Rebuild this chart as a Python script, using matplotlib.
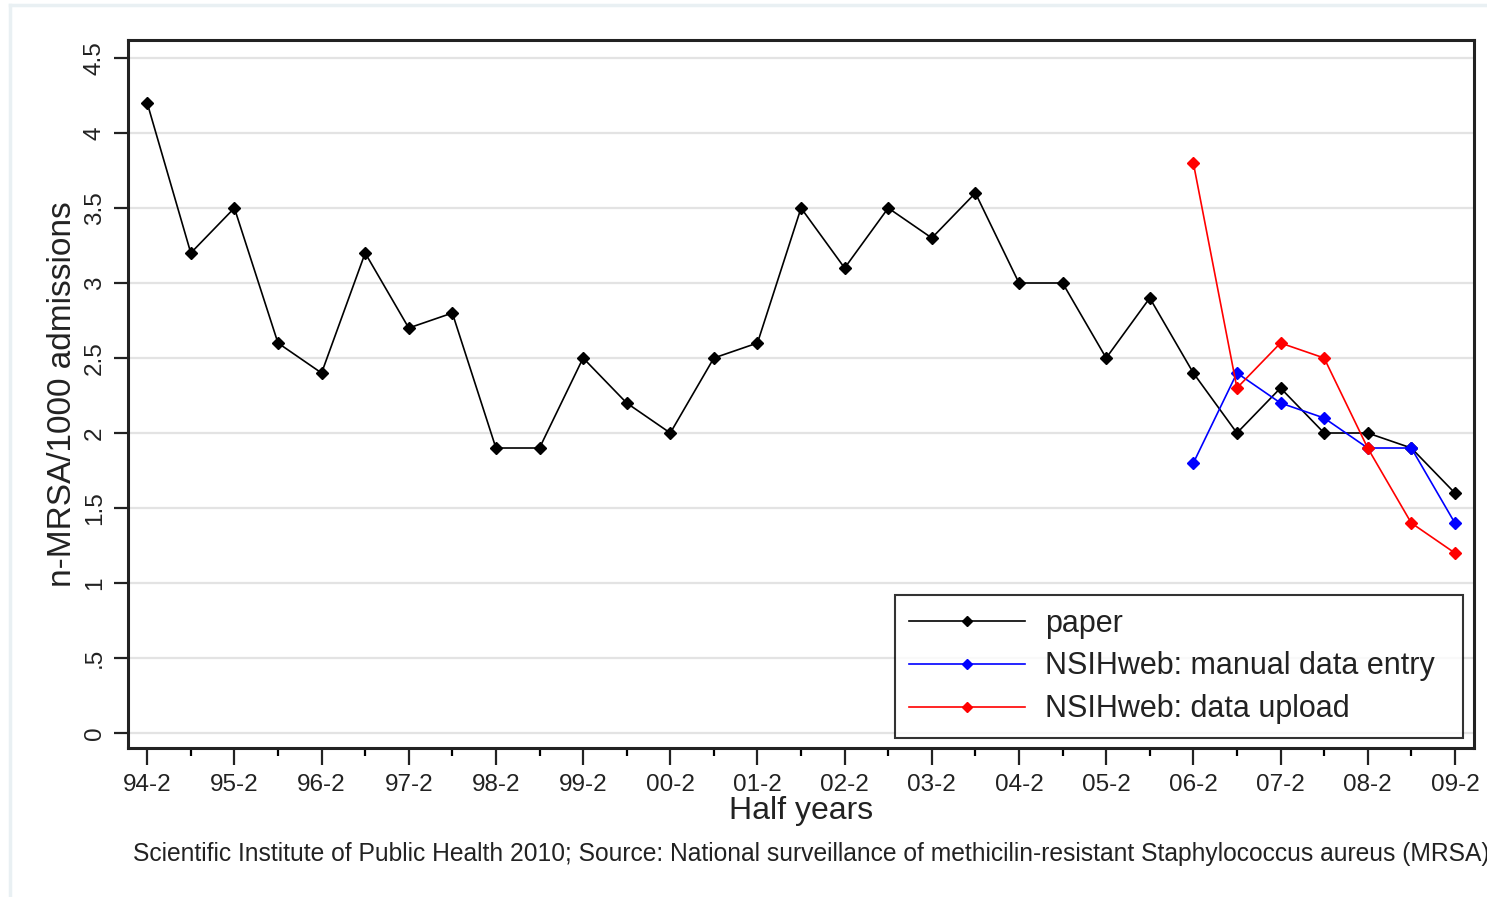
import numpy as np
import matplotlib.pyplot as plt
from matplotlib.lines import Line2D
from matplotlib.ticker import FixedLocator

plt.rcParams['font.family'] = ['Liberation Sans', 'DejaVu Sans']

# half years 94-2 .. 09-2, index 0 = 94-2
half_years = ['%02d-%d' % ((94 + (i + 1) // 2) % 100, 2 if i % 2 == 0 else 1)
              for i in range(31)]
tick_labels = [h for h in half_years if h.endswith('-2')]

paper = [4.2, 3.2, 3.5, 2.6, 2.4, 3.2, 2.7, 2.8, 1.9, 1.9, 2.5, 2.2, 2.0,
         2.5, 2.6, 3.5, 3.1, 3.5, 3.3, 3.6, 3.0, 3.0, 2.5, 2.9, 2.4, 2.0,
         2.3, 2.0, 2.0, 1.9, 1.6]
web_periods = ['06-2', '07-1', '07-2', '08-1', '08-2', '09-1', '09-2']
manual_entry = [1.8, 2.4, 2.2, 2.1, 1.9, 1.9, 1.4]
data_upload = [3.8, 2.3, 2.6, 2.5, 1.9, 1.4, 1.2]

x_all = np.arange(len(half_years))
x_web = np.array([half_years.index(p) for p in web_periods])

fig = plt.figure(figsize=(14.87, 8.97), dpi=100)
ax = fig.add_axes([0.0861, 0.1661, 0.9052, 0.7893])

# screenshot frame lines
fig.add_artist(Line2D([10 / 1487, 1], [1 - 5 / 897, 1 - 5 / 897],
                      color='#e9f0f3', lw=2.5, transform=fig.transFigure))
fig.add_artist(Line2D([10 / 1487, 10 / 1487], [0, 1 - 5 / 897],
                      color='#e9f0f3', lw=2.5, transform=fig.transFigure))

ax.grid(axis='y', color='#e3e3e3', lw=1.6)
ax.set_axisbelow(True)

style = dict(marker='D', markersize=6.2, lw=1.2)
ax.plot(x_all, paper, color='black', label='paper', **style)
ax.plot(x_web, manual_entry, color='#0000ff',
        label='NSIHweb: manual data entry', **style)
ax.plot(x_web, data_upload, color='#ff0000',
        label='NSIHweb: data upload', **style)

ax.set_xlim(-0.44, 30.44)
ax.set_ylim(-0.1, 4.62)

ax.xaxis.set_major_locator(FixedLocator(x_all[::2]))
ax.set_xticklabels(tick_labels)
ax.xaxis.set_minor_locator(FixedLocator(x_all[1::2]))
ax.set_yticks(np.arange(0, 4.51, 0.5))
ax.set_yticklabels(['0', '.5', '1', '1.5', '2', '2.5', '3', '3.5', '4', '4.5'],
                   rotation=90, va='center')

ax.tick_params(axis='x', which='major', length=12, width=1.6, labelsize=17.5,
               pad=7, colors='#222222')
ax.tick_params(axis='x', which='minor', length=6, width=1.6)
ax.tick_params(axis='y', which='major', length=10, width=1.6, labelsize=17.5,
               pad=6, colors='#222222')
for sp in ax.spines.values():
    sp.set_linewidth(2.2)
    sp.set_color('#222222')

ax.set_xlabel('Half years', fontsize=23, labelpad=0, color='#222222')
ax.set_ylabel('n-MRSA/1000 admissions', fontsize=24, labelpad=4,
              color='#222222')

leg = ax.legend(loc='lower left', bbox_to_anchor=(0.5698, 0.0141, 0.422, 0.2),
                mode='expand', fontsize=22, frameon=True, fancybox=False,
                borderpad=0.45, handlelength=3.8, handletextpad=0.65,
                labelspacing=0.42, markerscale=0.85, borderaxespad=0)
leg.get_frame().set_edgecolor('black')
leg.get_frame().set_linewidth(1.5)
for t in leg.get_texts():
    t.set_color('#222222')

fig.text(133 / 1487, 1 - 854 / 897,
         'Scientific Institute of Public Health 2010; Source: National '
         'surveillance of methicilin-resistant Staphylococcus aureus (MRSA)',
         fontsize=17.7, va='center', ha='left', color='#222222')

fig.savefig('out.png', dpi=100, facecolor='white')
